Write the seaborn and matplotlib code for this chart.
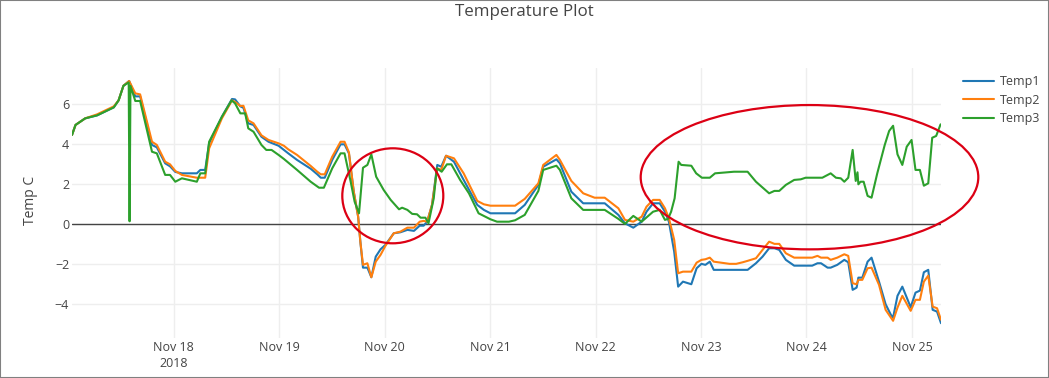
import pandas as pd
import matplotlib
matplotlib.use('Agg')
import matplotlib.pyplot as plt
from matplotlib.lines import Line2D
from matplotlib.patches import Ellipse, Rectangle
import seaborn as sns

# ============================================================
# DATA (hours after 2018-11-18 00:00, values in deg C)
# ============================================================

START = pd.Timestamp('2018-11-18 00:00')

hours_12 = [
    -23.1, -22.3, -20.1, -17.4, -13.6, -12.5, -11.4, -10.1, -8.7, -7.6,
    -4.9, -3.8, -1.9, -0.8, 0.4, 1.9, 5.3, 6.1, 7.2, 8.1,
    11.0, 13.3, 14.0, 15.2, 15.9, 17.0, 18.2, 20.0, 21.6, 23.9,
    25.1, 26.1, 28.1, 31.2, 32.7, 33.5, 34.4, 36.1, 38.0, 38.9,
    39.9, 41.0, 42.0, 42.5, 43.1, 44.1, 45.0, 46.0, 47.1, 48.2,
    50.1, 51.6, 53.2, 54.7, 56.0, 56.9, 57.7, 58.8, 60.0, 60.9,
    62.0, 63.8, 66.0, 69.1, 70.6, 72.1, 76.3, 77.7, 79.9, 83.0,
    84.1, 87.1, 87.9, 90.5, 93.2, 95.8, 98.1, 101.2, 102.7, 104.6,
    106.5, 107.6, 109.1, 110.6, 111.8, 112.7, 113.9, 114.8, 115.9, 117.8,
    119.0, 120.1, 121.0, 122.0, 122.9, 126.5, 128.0, 129.5, 130.6, 132.5,
    134.0, 135.5, 136.7, 137.8, 139.3, 141.2, 145.3, 146.5, 147.3, 148.8,
    149.5, 151.0, 152.6, 153.5, 154.5, 155.4, 155.8, 156.7, 157.9, 158.8,
    160.5, 162.0, 163.2, 163.7, 164.7, 165.8, 167.7, 168.8, 169.8, 170.7,
    171.7, 172.7, 173.7, 174.6,
]

temp1 = [
    4.47, 4.97, 5.3, 5.45, 5.85, 6.2, 6.93, 7.17, 6.4, 6.4,
    3.97, 3.85, 3.05, 2.9, 2.62, 2.55, 2.55, 2.72, 2.72, 4.05,
    5.38, 6.27, 6.25, 5.9, 5.83, 5.05, 4.97, 4.38, 4.13, 3.93,
    3.72, 3.55, 3.22, 2.78, 2.5, 2.33, 2.33, 3.22, 4.0, 4.0,
    3.55, 1.63, 0.38, -0.87, -2.17, -2.17, -2.65, -1.62, -1.25, -1.03,
    -0.45, -0.4, -0.28, -0.33, -0.07, -0.07, 0.13, 0.97, 2.97, 2.88,
    3.43, 3.13, 2.22, 0.97, 0.72, 0.55, 0.55, 0.55, 0.97, 1.97,
    2.88, 3.25, 3.05, 1.63, 1.05, 1.05, 1.05, 0.47, 0.05, -0.17,
    0.13, 0.63, 1.05, 1.05, 0.63, 0.13, -1.37, -3.12, -2.87, -3.0,
    -2.2, -1.98, -2.03, -1.87, -2.28, -2.28, -2.28, -2.28, -2.28, -1.95,
    -1.62, -1.2, -1.2, -1.28, -1.78, -2.07, -2.07, -1.95, -1.95, -2.17,
    -2.17, -2.03, -1.78, -1.9, -3.28, -3.17, -2.67, -2.67, -1.87, -1.67,
    -2.87, -4.0, -4.53, -4.67, -3.58, -3.12, -4.15, -3.42, -3.32, -2.4,
    -2.28, -4.28, -4.37, -4.95,
]

temp2 = [
    4.47, 4.97, 5.3, 5.5, 5.9, 6.2, 6.93, 7.17, 6.55, 6.5,
    4.13, 3.97, 3.13, 3.0, 2.67, 2.47, 2.33, 2.33, 2.33, 3.8,
    5.3, 6.2, 6.12, 5.92, 5.93, 5.2, 5.05, 4.45, 4.22, 4.05,
    3.93, 3.75, 3.47, 2.92, 2.63, 2.5, 2.5, 3.38, 4.13, 4.13,
    3.6, 1.63, 0.38, -0.87, -2.03, -1.95, -2.65, -1.87, -1.53, -1.08,
    -0.45, -0.37, -0.17, -0.17, 0.13, 0.17, 0.13, 0.97, 2.8, 2.72,
    3.43, 3.3, 2.55, 1.17, 1.0, 0.93, 0.93, 0.93, 1.27, 2.05,
    2.97, 3.47, 3.22, 2.17, 1.55, 1.33, 1.33, 0.8, 0.22, 0.13,
    0.38, 0.88, 1.22, 1.22, 0.8, 0.3, -0.78, -2.45, -2.37, -2.37,
    -1.92, -1.78, -1.75, -1.67, -1.87, -1.98, -1.98, -1.9, -1.83, -1.7,
    -1.28, -0.87, -0.98, -0.98, -1.45, -1.67, -1.67, -1.58, -1.67, -1.67,
    -1.78, -1.67, -1.5, -1.58, -2.95, -3.0, -2.78, -2.78, -2.2, -2.17,
    -3.03, -4.28, -4.67, -4.83, -4.17, -3.58, -4.33, -3.78, -3.78, -2.87,
    -2.57, -4.12, -4.2, -4.78,
]

hours_3 = [
    -23.1, -22.3, -20.1, -17.4, -13.6, -12.5, -11.4, -10.2, -10.0, -9.8,
    -8.7, -7.6, -4.9, -3.8, -1.9, -0.8, 0.4, 1.9, 5.3, 6.1,
    7.2, 8.1, 11.0, 13.2, 14.0, 15.2, 16.3, 17.0, 18.2, 20.0,
    21.1, 22.3, 23.9, 25.1, 28.1, 31.2, 33.1, 34.2, 36.1, 38.0,
    38.9, 40.3, 41.2, 42.2, 43.1, 44.1, 45.0, 46.1, 47.8, 49.4,
    51.3, 52.0, 53.2, 54.3, 55.4, 56.2, 57.3, 58.0, 59.2, 59.9,
    61.0, 62.2, 63.2, 65.2, 67.2, 69.4, 72.1, 73.6, 76.3, 77.7,
    79.9, 83.0, 84.1, 87.1, 87.9, 90.5, 93.2, 98.1, 101.2, 102.7,
    104.6, 106.5, 109.1, 110.6, 111.8, 112.5, 113.2, 114.0, 114.9, 115.5,
    117.8, 118.9, 120.2, 122.0, 123.2, 127.5, 130.6, 132.5, 135.5, 136.7,
    137.8, 139.3, 141.2, 142.7, 143.8, 147.6, 149.5, 150.7, 151.8, 152.6,
    153.5, 154.5, 155.2, 155.6, 155.8, 156.3, 157.0, 157.9, 158.8, 160.1,
    161.8, 162.8, 163.7, 164.7, 165.8, 166.8, 167.9, 168.8, 169.8, 170.7,
    171.7, 172.6, 173.5, 174.5,
]

temp3 = [
    4.47, 4.97, 5.3, 5.45, 5.85, 6.2, 6.93, 7.1, 0.15, 6.93,
    6.17, 6.17, 3.63, 3.55, 2.47, 2.47, 2.13, 2.3, 2.13, 2.55,
    2.55, 4.13, 5.38, 6.2, 6.05, 5.55, 5.55, 4.8, 4.63, 3.97,
    3.72, 3.72, 3.47, 3.27, 2.72, 2.13, 1.83, 1.83, 2.8, 3.55,
    3.55, 2.13, 1.13, 0.55, 2.83, 2.97, 3.5, 2.38, 1.72, 1.22,
    0.75, 0.83, 0.72, 0.52, 0.5, 0.33, 0.33, 0.05, 1.3, 2.8,
    2.63, 3.0, 3.0, 2.22, 1.55, 0.55, 0.25, 0.13, 0.13, 0.2,
    0.47, 1.67, 2.72, 2.93, 2.72, 1.3, 0.72, 0.72, 0.27, 0.02,
    0.42, 0.13, 0.63, 0.72, 0.22, 0.27, 0.63, 1.3, 3.13, 2.97,
    2.93, 2.55, 2.33, 2.33, 2.55, 2.63, 2.63, 2.13, 1.55, 1.67,
    1.67, 1.97, 2.22, 2.25, 2.33, 2.33, 2.55, 2.33, 2.3, 2.13,
    2.33, 3.72, 2.17, 2.6, 2.0, 2.13, 2.13, 1.42, 1.33, 2.55,
    3.97, 4.67, 4.93, 3.5, 2.97, 3.88, 4.22, 2.72, 2.72, 1.93,
    2.05, 4.33, 4.42, 5.0,
]

series_names = ['Temp1', 'Temp2', 'Temp3']
colors = ['#1f77b4', '#ff7f0e', '#2ca02c']

tick_days = pd.date_range('2018-11-18', '2018-11-25', freq='D')
tick_labels = ['Nov 18\n2018'] + [d.strftime('%b %d') for d in tick_days[1:]]
y_ticks = [-4, -2, 0, 2, 4, 6]

# ============================================================
# BUILD LONG DATAFRAME
# ============================================================

frames = []
for name, hrs, vals in zip(series_names,
                           [hours_12, hours_12, hours_3],
                           [temp1, temp2, temp3]):
    frames.append(pd.DataFrame({'hours': hrs, 'temp': vals, 'series': name}))

df = pd.concat(frames, ignore_index=True)
df['time'] = START + pd.to_timedelta(df['hours'], unit='h')

# ============================================================
# PLOT
# ============================================================

sns.set_theme(style='white')
plt.rcParams['font.family'] = ['Open Sans', 'DejaVu Sans']

W, H = 1049, 378
fig = plt.figure(figsize=(W / 100, H / 100), dpi=100)
ax = fig.add_axes([72 / W, 1 - 338 / H, (941 - 72) / W, (338 - 68) / H])

sns.lineplot(
    data=df,
    x='time',
    y='temp',
    hue='series',
    hue_order=series_names,
    palette=colors,
    estimator=None,
    sort=False,
    linewidth=1.5,
    legend=False,
    ax=ax
)

ax.axhline(0, color='#444444', linewidth=1, zorder=1.5)

ax.set_xlim(df['time'].min(), df['time'].max())
ax.set_ylim(-5.69, 7.82)

ax.set_xticks(tick_days)
ax.set_xticklabels(tick_labels, linespacing=1.35)
ax.set_yticks(y_ticks)
ax.set_yticklabels([str(v).replace('-', '\u2212') for v in y_ticks])

ax.tick_params(axis='both', length=0, labelsize=9, labelcolor='#444444')
ax.tick_params(axis='y', pad=2)
ax.tick_params(axis='x', pad=2)

ax.grid(True, color='#eeeeee', linewidth=1)
ax.set_axisbelow(True)
for s in ax.spines.values():
    s.set_visible(False)

ax.set_xlabel('')
ax.set_ylabel('')

fig.text(0.5, 1 - 12 / H, 'Temperature Plot', ha='center', va='center',
         fontsize=12.2, color='#444444')
fig.text(30 / W, 1 - 200 / H, 'Temp C', rotation=90, ha='center',
         va='center', fontsize=10, color='#444444')

handles = [Line2D([], [], color=c, linewidth=1.5) for c in colors]
fig.legend(
    handles,
    series_names,
    loc='upper left',
    bbox_to_anchor=(963 / W, 1 - 75 / H),
    frameon=False,
    borderpad=0,
    borderaxespad=0,
    handlelength=2.5,
    handletextpad=0.45,
    labelspacing=0.45,
    fontsize=9,
    labelcolor='#444444'
)

# red annotation ellipses
for cx, cy, w, h in [(392.8, 195.8, 101, 95), (809.5, 177.2, 337.6, 144.3)]:
    fig.add_artist(Ellipse((cx / W, 1 - cy / H), w / W, h / H,
                           transform=fig.transFigure, fill=False,
                           edgecolor='#dc0014', linewidth=1.6))

# thin frame around the image
fig.add_artist(Rectangle((0, 0), 1, 1, transform=fig.transFigure,
                         fill=False, edgecolor='#808080', linewidth=1.5))

fig.savefig('out.png', dpi=100)
plt.close(fig)
